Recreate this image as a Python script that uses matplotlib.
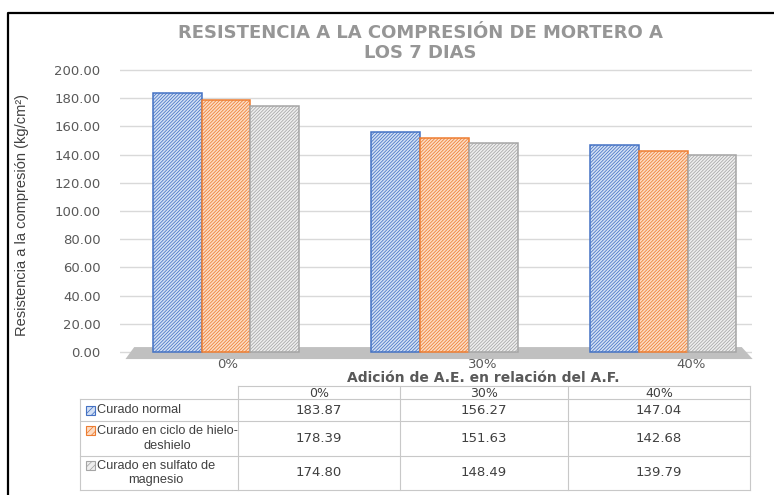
import matplotlib
matplotlib.use('Agg')
import matplotlib.pyplot as plt
import matplotlib.transforms as mtransforms
from matplotlib.patches import Rectangle, Polygon
import numpy as np

# data
categories = ['0%', '30%', '40%']
series_names = ['Curado normal',
                'Curado en ciclo de hielo-\ndeshielo',
                'Curado en sulfato de\nmagnesio']
curado_normal = [183.87, 156.27, 147.04]
curado_hielo = [178.39, 151.63, 142.68]
curado_sulfato = [174.80, 148.49, 139.79]
y_ticks = [0, 20, 40, 60, 80, 100, 120, 140, 160, 180, 200]

series_values = [curado_normal, curado_hielo, curado_sulfato]
face_colors = ['#d3e0f4', '#fcdcc4', '#eeeeee']
line_colors = ['#4472c4', '#ed7d31', '#a5a5a5']

W, H = 774, 495
plt.rcParams['hatch.linewidth'] = 0.55
fig = plt.figure(figsize=(W / 100, H / 100), dpi=100)


def fx(px):
    return px / W


def fy(py):
    return 1 - py / H


# main bar axes: value 0 -> y=352 px, value 200 -> y=70 px
ylo, yhi = -6, 205
ppu = (352 - 70) / 200.0
top_px = 70 - (yhi - 200) * ppu
bot_px = 352 + (0 - ylo) * ppu
ax = fig.add_axes([fx(120), fy(bot_px), fx(752) - fx(120), (bot_px - top_px) / H])

x = np.arange(len(categories))
bw = 0.224
for i, vals in enumerate(series_values):
    ax.bar(x + (i - 1) * bw, vals, width=bw, color=face_colors[i],
           edgecolor=line_colors[i], hatch='//////////', linewidth=1.1, zorder=3)

# grey floor under the bars
floor = Polygon([(-0.46, -5), (2.41, -5), (2.36, 3.5), (-0.42, 3.5)],
                closed=True, facecolor='#c0c0c0', edgecolor='none', zorder=2,
                clip_on=False)
ax.add_patch(floor)

ax.set_xlim(-0.485, 2.407)
ax.set_ylim(ylo, yhi)
ax.set_yticks(y_ticks)
ax.set_yticklabels([f'{v:.2f}' for v in y_ticks])
ax.set_xticks(x)
ax.set_xticklabels(categories)
ax.tick_params(axis='both', length=0, labelsize=9.5, labelcolor='#595959')
ax.tick_params(axis='y', pad=14)
ax.tick_params(axis='x', pad=0)
# the category labels sit a little to the right of the groups in the original
for lab, dx in zip(ax.get_xticklabels(), [2, 38, 28]):
    lab.set_transform(lab.get_transform() +
                      mtransforms.ScaledTranslation(dx / 100, 2 / 100, fig.dpi_scale_trans))
ax.grid(axis='y', color='#d9d9d9', linewidth=1.0, zorder=0)
ax.set_axisbelow(True)
for s in ax.spines.values():
    s.set_visible(False)

# overlay in pixel coordinates for frame, titles and data table
ov = fig.add_axes([0, 0, 1, 1], zorder=5)
ov.set_xlim(0, W)
ov.set_ylim(H, 0)
ov.axis('off')

ov.plot([8, 8, W + 5], [H + 5, 13, 13], color='black', linewidth=1.6, clip_on=False)

title_font = dict(ha='center', va='center', fontsize=13, fontweight='bold',
                  color='#969696')
ov.text(420, 33, 'RESISTENCIA A LA COMPRESIÓN DE MORTERO A', **title_font)
ov.text(420, 53, 'LOS 7 DIAS', **title_font)

ov.text(22, 215, 'Resistencia a la compresión (kg/cm²)', rotation=90,
        ha='center', va='center', fontsize=10.5, color='#404040',
        fontstretch='condensed',
        family=['Liberation Sans Narrow', 'DejaVu Sans Condensed', 'Liberation Sans'])

ov.text(483, 378.5, 'Adición de A.E. en relación del A.F.', ha='center', va='center',
        fontsize=10, fontweight='bold', color='#595959')

# data table
col_x = [80, 238, 400, 568, 750]
row_y = [386, 399, 421, 456, 490]
grid_c = '#c8c8c8'
ov.plot([col_x[1], col_x[4]], [row_y[0], row_y[0]], color=grid_c, lw=0.8)
for yy in row_y[1:]:
    ov.plot([col_x[0], col_x[4]], [yy, yy], color=grid_c, lw=0.8)
ov.plot([col_x[0], col_x[0]], [row_y[1], row_y[4]], color=grid_c, lw=0.8)
for xx in col_x[1:]:
    ov.plot([xx, xx], [row_y[0], row_y[4]], color=grid_c, lw=0.8)

for j, cat in enumerate(categories):
    cx = (col_x[j + 1] + col_x[j + 2]) / 2
    ov.text(cx, (row_y[0] + row_y[1]) / 2 + 1, cat, ha='center', va='center',
            fontsize=9, color='#404040')

for i, vals in enumerate(series_values):
    cy = (row_y[i + 1] + row_y[i + 2]) / 2
    first_line_y = cy if i == 0 else cy - 8
    ov.add_patch(Rectangle((86, first_line_y - 4.5), 9, 9,
                           facecolor=face_colors[i], edgecolor=line_colors[i],
                           hatch='/////', linewidth=0.8))
    ov.text(97, cy, series_names[i], ha='left', va='center',
            fontsize=9.2, color='#404040', multialignment='center',
            linespacing=1.25, family=['Liberation Sans', 'DejaVu Sans'])
    for j, v in enumerate(vals):
        cx = (col_x[j + 1] + col_x[j + 2]) / 2
        ov.text(cx, cy, f'{v:.2f}', ha='center', va='center',
                fontsize=9.5, color='#404040')

fig.savefig('out.png', dpi=100, facecolor='white')
